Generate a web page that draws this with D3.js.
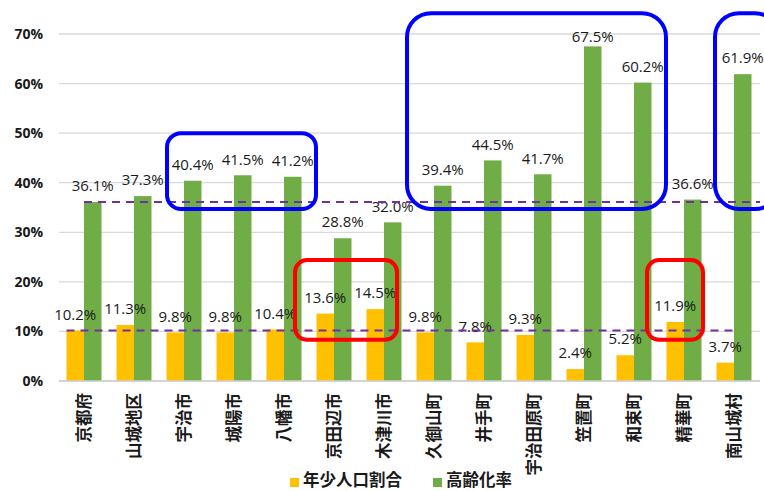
<!DOCTYPE html>
<html><head><meta charset="utf-8">
<script src="https://cdn.jsdelivr.net/npm/d3@7"></script>
<style>
html,body{margin:0;padding:0;background:#fff;}
svg{display:block;}
</style>
</head><body>
<svg id="chart" width="764" height="491"></svg>
<script>
const categories = ["京都府","山城地区","宇治市","城陽市","八幡市","京田辺市","木津川市","久御山町","井手町","宇治田原町","笠置町","和束町","精華町","南山城村"];
const youthShare = [10.2,11.3,9.8,9.8,10.4,13.6,14.5,9.8,7.8,9.3,2.4,5.2,11.9,3.7];
const agingRate = [36.1,37.3,40.4,41.5,41.2,28.8,32.0,39.4,44.5,41.7,67.5,60.2,36.6,61.9];
const seriesNames = ["年少人口割合","高齢化率"];
const seriesColors = ["#FFC000","#70AD47"];
const yTicks = [0,10,20,30,40,50,60,70];
// reference lines: prefecture values
const refLines = [agingRate[0], youthShare[0]];
// annotation boxes: [start index, end index (fractional category units), top %, bottom %]
const blueBoxes = [[2.16,5.14,50,34.7],[6.96,12.14,74.2,34.7],[13.12,14.4,74.2,34.7]];
const redBoxes = [[4.72,6.76,24.4,8.3],[11.76,12.88,24.4,8.3]];

const svg = d3.select("#chart");
const mLeft = 59, mRight = 759, mTop = 34, mBottom = 381;

const x0 = d3.scaleBand().domain(categories).range([mLeft,mRight]).paddingInner(0.3).paddingOuter(0.15);
const x1 = d3.scaleBand().domain(seriesNames).range([0,x0.bandwidth()]);
const y = d3.scaleLinear().domain([0,70]).range([mBottom,mTop]);
const xi = d3.scaleLinear().domain([0,categories.length]).range([mLeft,mRight]);

// gridlines
svg.append("g").selectAll("line").data(yTicks).join("line")
  .attr("x1",mLeft).attr("x2",mRight+1)
  .attr("y1",d=>y(d)).attr("y2",d=>y(d))
  .attr("stroke",d=>d===0?"#D0D0D0":"#D9D9D9").attr("stroke-width",1.3);

// y axis labels
const yAxis = d3.axisLeft(y).tickValues(yTicks).tickFormat(d=>d+"%").tickSize(0).tickPadding(0);
const ya = svg.append("g").attr("transform",`translate(43,0)`).call(yAxis);
ya.select(".domain").remove();
ya.selectAll("text").attr("font-family","'Open Sans',sans-serif").attr("font-weight","bold")
  .attr("font-size","14px").attr("fill","#1a1a1a");

// bars
const rows = categories.map((c,i)=>({cat:c, vals:[youthShare[i],agingRate[i]]}));
const g = svg.append("g");
rows.forEach(r=>{
  r.vals.forEach((v,k)=>{
    g.append("rect")
      .attr("x",x0(r.cat)+x1(seriesNames[k]))
      .attr("width",x1.bandwidth())
      .attr("y",y(v)).attr("height",y(0)-y(v))
      .attr("fill",seriesColors[k]);
  });
});

// x axis line
svg.append("line").attr("x1",mLeft).attr("x2",mRight+1).attr("y1",y(0)).attr("y2",y(0))
  .attr("stroke","#D0D0D0").attr("stroke-width",1.3);

// reference dashed lines
svg.append("line")
  .attr("x1",x0(categories[0])+x1(seriesNames[1])).attr("x2",mRight+1)
  .attr("y1",y(refLines[0])).attr("y2",y(refLines[0]))
  .attr("stroke","#7030A0").attr("stroke-width",2).attr("stroke-dasharray","8,6");
svg.append("line")
  .attr("x1",x0(categories[0])).attr("x2",x0(categories[categories.length-1])+x1.bandwidth())
  .attr("y1",y(refLines[1])).attr("y2",y(refLines[1]))
  .attr("stroke","#7030A0").attr("stroke-width",2).attr("stroke-dasharray","8,6");

// data labels
rows.forEach(r=>{
  r.vals.forEach((v,k)=>{
    g.append("text")
      .attr("x",x0(r.cat)+x1(seriesNames[k])+x1.bandwidth()/2)
      .attr("y",Math.max(y(v)-16, 37))
      .attr("dy","0.35em")
      .attr("text-anchor","middle")
      .attr("font-family","'Open Sans',sans-serif").attr("font-size","15px")
      .attr("fill","#1a1a1a")
      .text(v.toFixed(1)+"%");
  });
});

// category labels
svg.append("g").selectAll("text").data(categories).join("text")
  .attr("transform",d=>`translate(${x0(d)+x0.bandwidth()/2},393) rotate(-90)`)
  .attr("dy","0.36em")
  .attr("text-anchor","end")
  .attr("font-family","'Noto Sans CJK JP',sans-serif").attr("font-weight","bold")
  .attr("font-size","16.5px").attr("fill","#1a1a1a")
  .text(d=>d);

// annotation boxes
svg.append("g").selectAll("rect").data(blueBoxes).join("rect")
  .attr("x",d=>xi(d[0])).attr("width",d=>xi(d[1])-xi(d[0]))
  .attr("y",d=>y(d[2])).attr("height",d=>y(d[3])-y(d[2]))
  .attr("rx",(d,i)=>i===0?14:24).attr("fill","none").attr("stroke","#0000FF").attr("stroke-width",4);
svg.append("g").selectAll("rect").data(redBoxes).join("rect")
  .attr("x",d=>xi(d[0])).attr("width",d=>xi(d[1])-xi(d[0]))
  .attr("y",d=>y(d[2])).attr("height",d=>y(d[3])-y(d[2]))
  .attr("rx",12).attr("fill","none").attr("stroke","#FF0000").attr("stroke-width",4);

// legend
const legX = [290,433];
const lg = svg.append("g");
seriesNames.forEach((s,k)=>{
  lg.append("rect").attr("x",legX[k]).attr("y",478).attr("width",9).attr("height",9).attr("fill",seriesColors[k]);
  lg.append("text").attr("x",legX[k]+13).attr("y",480).attr("dy","0.36em")
    .attr("font-family","'Noto Sans CJK JP',sans-serif").attr("font-weight","bold")
    .attr("font-size","16.5px").attr("fill","#1a1a1a").text(s);
});
</script>
</body></html>
